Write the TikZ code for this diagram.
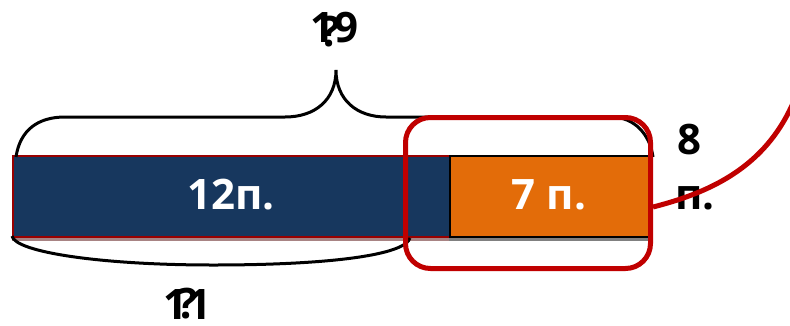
\documentclass[tikz,border=0pt]{standalone}
\usepackage{fontspec}
\setmainfont{Open Sans}
\begin{document}
\begin{tikzpicture}[x=1pt,y=-1pt,
  lbl/.style={font=\bfseries\fontsize{42}{48}\selectfont, inner sep=0pt},
  wlbl/.style={lbl, text=white},
  bar/.style={minimum height=81pt, inner sep=0pt, line width=2pt},
  brace/.style={line width=3pt, black},
  redline/.style={line width=5pt, color=myred},
]
\definecolor{navy}{HTML}{17375E}
\definecolor{myorange}{HTML}{E36C09}
\definecolor{darkred}{HTML}{990000}
\definecolor{myred}{HTML}{C00000}
\definecolor{pinkgray}{HTML}{A88484}
\useasboundingbox (0,0) rectangle (790,325);
\clip (0,0) rectangle (790,325);
% shadows
\fill[pinkgray] (12,236) rectangle (449,241);
\fill[gray] (449,236) rectangle (649,241);
% bars
\node[bar, draw=darkred, fill=navy, minimum width=437pt, anchor=north west] (blue) at (12,155) {};
\node[bar, draw=black, fill=myorange, minimum width=200pt, anchor=north west] (orange) at (449,155) {};
\node[wlbl] (t12) at (231,195) {12п.};
\node[wlbl] (t7) at (549,195) {7 п.};
% top brace
\draw[brace] (16,157) .. controls (20,130) and (38,117) .. (65,117) -- (285,117)
  .. controls (315,117) and (336,100) .. (336,70)
  .. controls (336,100) and (357,117) .. (386,117) -- (611,117)
  .. controls (635,117) and (650,135) .. (653,157);
% bottom brace
\draw[brace] (12,236) .. controls (15,252) and (100,265) .. (213,265)
  .. controls (330,265) and (405,255) .. (410,238);
% labels
\node[lbl] (top19) at (334,28) {19};
\node[lbl] at (331,32) {?};
\node[lbl] (bot11) at (187,305) {11};
\node[lbl] at (188,304) {?};
\node[lbl] (n8) at (689,140) {8};
\node[lbl] (np) at (695,198) {п.};
% red rounded box
\node[draw=myred, line width=5pt, rounded corners=25pt, minimum width=245pt, minimum height=151pt, inner sep=0pt] (redbox) at (528,193) {};
\coordinate (off) at (800,85);
\draw[redline] (redbox.east |- 0,207) .. controls (720,190) and (775,160) .. (off);
\end{tikzpicture}
\end{document}
